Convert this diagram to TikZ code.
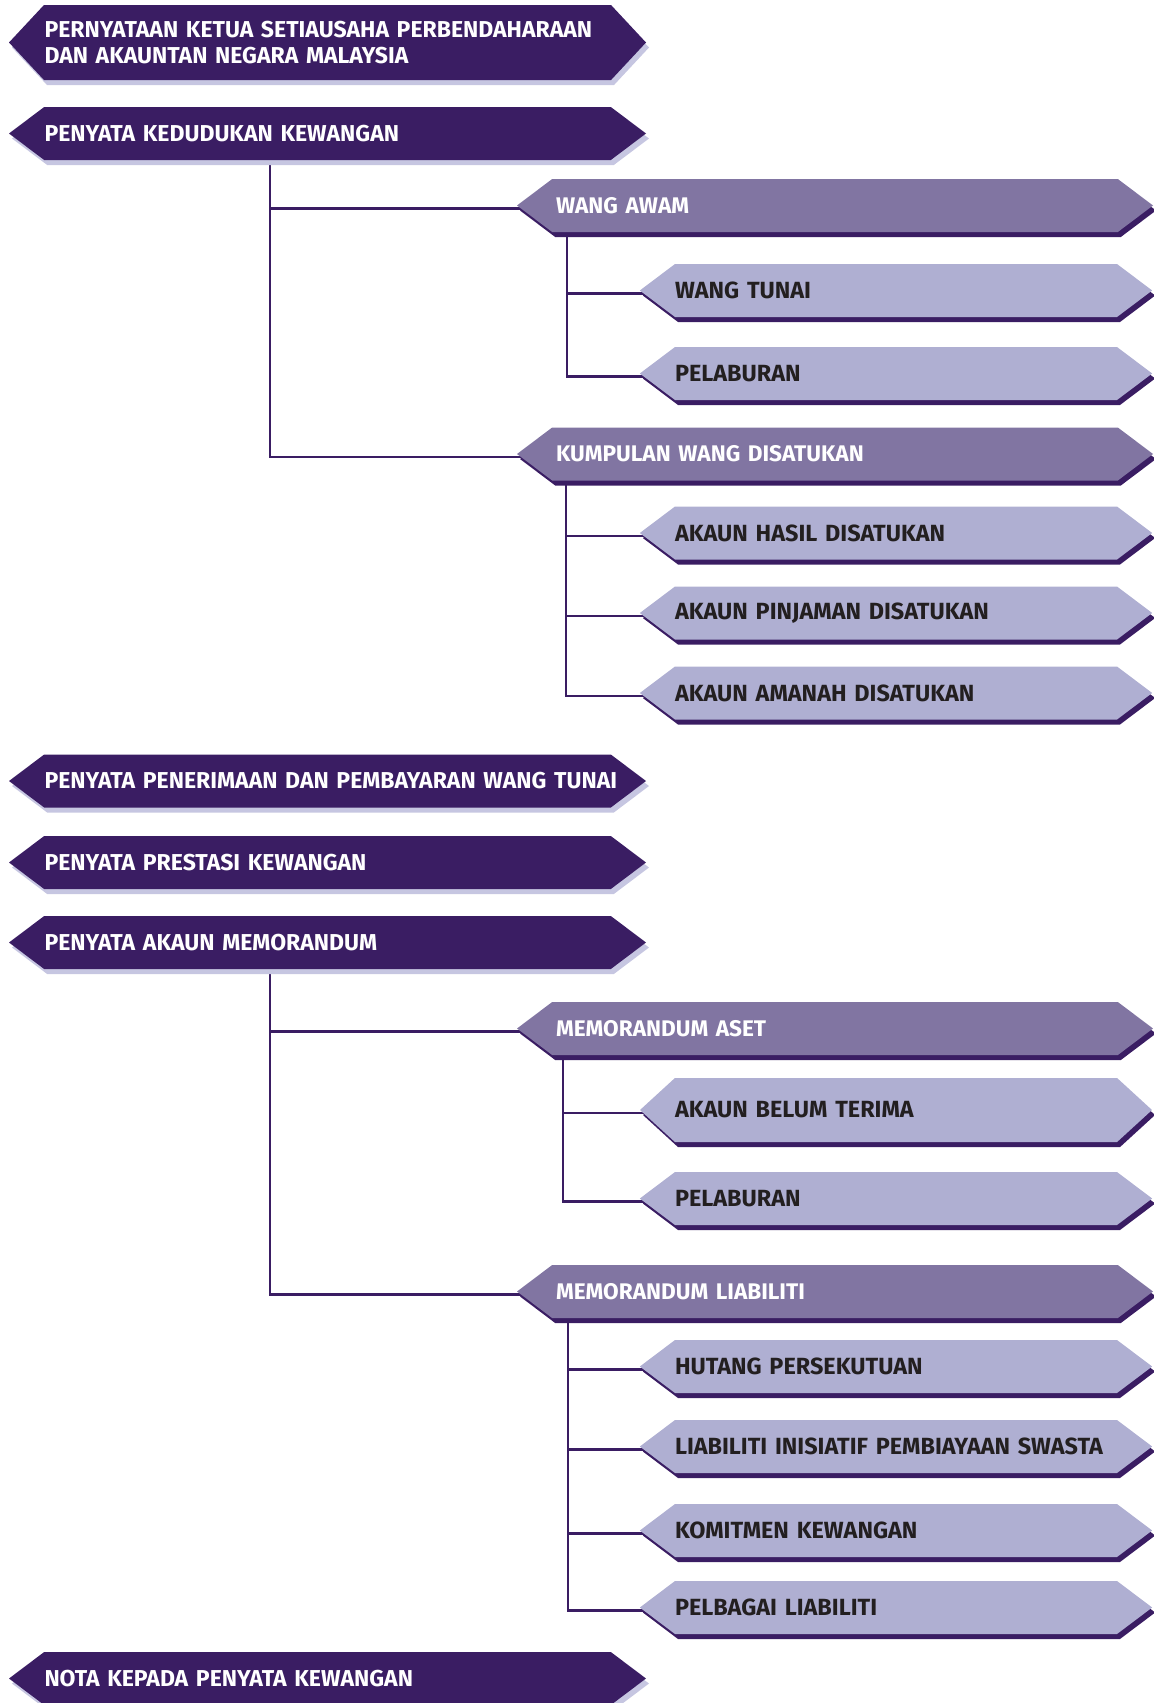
\documentclass[tikz,border=0pt]{standalone}
\usepackage{fontspec}
\setmainfont{Fira Sans}
\usetikzlibrary{shapes.symbols,shadows,backgrounds}
\definecolor{kDeep}{HTML}{3A1D63}
\definecolor{kMid} {HTML}{8175A2}
\definecolor{kPale}{HTML}{AFAFD2}
\definecolor{kHaze}{HTML}{C6C6E1}
\definecolor{kInk} {HTML}{231F20}

\begin{document}
\begin{tikzpicture}[x=0.5pt,y=-0.5pt,
      plate/.style={signal,signal to=west and east,signal pointer angle=74,
                    minimum height=26.5pt,inner xsep=0pt,inner ysep=0pt,align=left},
      hd/.style={plate,fill=kDeep,text=white,minimum width=318.5pt,text width=283pt,
                 font=\fontsize{11.5}{13}\selectfont\bfseries,
                 drop shadow={shadow xshift=1.5pt,shadow yshift=-2.5pt,opacity=1,fill=kHaze}},
      sb/.style={plate,fill=kMid,text=white,minimum width=318pt,text width=279pt,
                 font=\fontsize{11.3}{13}\selectfont\bfseries,
                 drop shadow={shadow xshift=1.5pt,shadow yshift=-2.5pt,opacity=1,fill=kDeep}},
      lf/.style={plate,fill=kPale,text=kInk,minimum width=256pt,text width=221pt,
                 font=\fontsize{11.7}{13}\selectfont\bfseries,
                 drop shadow={shadow xshift=1.5pt,shadow yshift=-2.5pt,opacity=1,fill=kDeep}},
      link/.style={kDeep,line width=1.2pt}]

    \useasboundingbox (0,0) rectangle (1154,1703);

    \node[hd,signal pointer angle=94,minimum height=37.5pt] (ketua) at (327.5,42.5)
      {PERNYATAAN KETUA SETIAUSAHA PERBENDAHARAAN\\DAN AKAUNTAN NEGARA MALAYSIA};
    \node[hd] (kedudukan) at (327.5,133.5) {PENYATA KEDUDUKAN KEWANGAN};
    \node[sb] (wangawam) at (835,205.5) {WANG AWAM};
    \node[lf] (wangtunai) at (896,290.5) {WANG TUNAI};
    \node[lf] (pelaburanA) at (896,373.5) {PELABURAN};
    \node[sb] (kumpulan) at (835,454) {KUMPULAN WANG DISATUKAN};
    \node[lf] (hasil) at (896,533) {AKAUN HASIL DISATUKAN};
    \node[lf] (pinjaman) at (896,613) {AKAUN PINJAMAN DISATUKAN};
    \node[lf] (amanah) at (896,693) {AKAUN AMANAH DISATUKAN};
    \node[hd] (terimabayar) at (327.5,781) {\mbox{PENYATA PENERIMAAN DAN PEMBAYARAN WANG TUNAI}};
    \node[hd] (prestasi) at (327.5,862.5) {PENYATA PRESTASI KEWANGAN};
    \node[hd] (memorandum) at (327.5,942.5) {PENYATA AKAUN MEMORANDUM};
    \node[sb] (aset) at (835,1028.5) {MEMORANDUM ASET};
    \node[lf,signal pointer angle=85,minimum height=32pt] (belumterima) at (896,1110) {AKAUN BELUM TERIMA};
    \node[lf] (pelaburanB) at (896,1198.5) {PELABURAN};
    \node[sb] (liabiliti) at (835,1291.5) {MEMORANDUM LIABILITI};
    \node[lf] (hutang) at (896,1366.5) {HUTANG PERSEKUTUAN};
    \node[lf] (pbs) at (896,1446.5) {LIABILITI INISIATIF PEMBIAYAAN SWASTA};
    \node[lf] (komitmen) at (896,1530.5) {KOMITMEN KEWANGAN};
    \node[lf] (pelbagai) at (896,1607.5) {PELBAGAI LIABILITI};
    \node[hd] (nota) at (327.5,1678.5) {NOTA KEPADA PENYATA KEWANGAN};

    % trunk positions
    \coordinate (tkedudukan) at (270,0);
    \coordinate (twangawam) at (567,0);
    \coordinate (tkumpulan) at (566,0);
    \coordinate (tmemorandum) at (270,0);
    \coordinate (taset) at (563,0);
    \coordinate (tliabiliti) at (568,0);

    \begin{scope}[on background layer]
      \foreach \p/\c in {kedudukan/wangawam,kedudukan/kumpulan,
                         wangawam/wangtunai,wangawam/pelaburanA,
                         kumpulan/hasil,kumpulan/pinjaman,kumpulan/amanah,
                         memorandum/aset,memorandum/liabiliti,
                         aset/belumterima,aset/pelaburanB,
                         liabiliti/hutang,liabiliti/pbs,liabiliti/komitmen,liabiliti/pelbagai}
        \draw[link] (\p.south -| t\p) |- ([xshift=4pt,yshift=-1.5pt]\c.west);
    \end{scope}
  \end{tikzpicture}
\end{document}
